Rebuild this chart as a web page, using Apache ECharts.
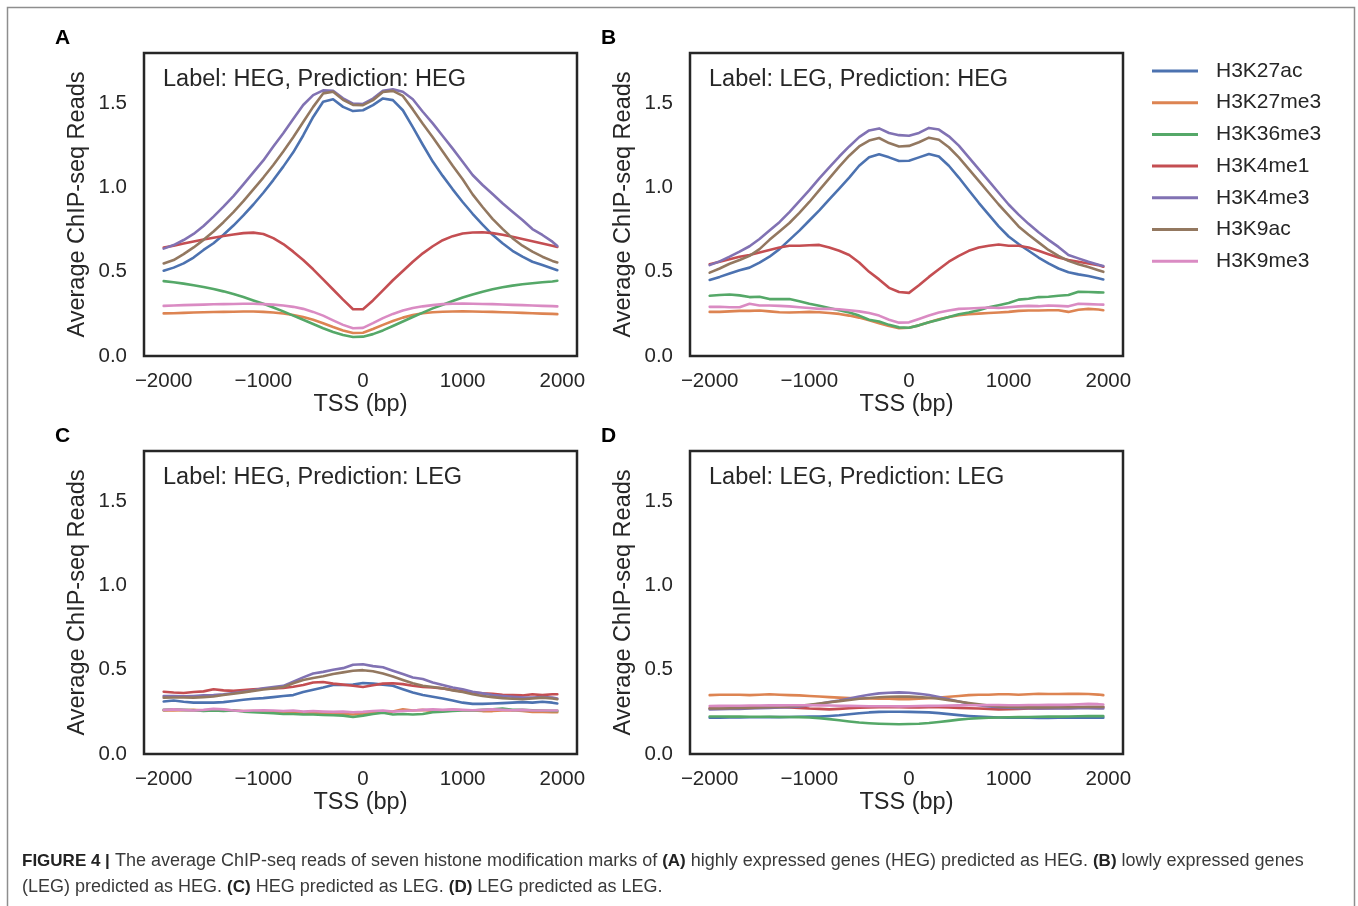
<!DOCTYPE html>
<html>
<head>
<meta charset="utf-8">
<title>Figure 4</title>
<script src="https://cdn.jsdelivr.net/npm/echarts@6/dist/echarts.min.js"></script>
<style>
  html, body { margin: 0; padding: 0; background: #fff; }
  #chart { width: 1358px; height: 906px; }
</style>
</head>
<body>
<div id="chart"></div>
<script>
// TSS positions (bp)
var XS = [-2000,-1900,-1800,-1700,-1600,-1500,-1400,-1300,-1200,-1100,-1000,-900,-800,-700,-600,-500,-400,-300,-200,-100,
          0,100,200,300,400,500,600,700,800,900,1000,1100,1200,1300,1400,1500,1600,1700,1800,1900,1950];

var MARKS = ['H3K27ac','H3K27me3','H3K36me3','H3K4me1','H3K4me3','H3K9ac','H3K9me3'];
var PANEL_LETTERS = ['A','B','C','D'];
var PANEL_TITLES = ['Label: HEG, Prediction: HEG','Label: LEG, Prediction: HEG','Label: HEG, Prediction: LEG','Label: LEG, Prediction: LEG'];
var X_TICKS = [-2000,-1000,0,1000,2000];
var Y_TICKS = [0,0.5,1.0,1.5];

/* A: HEG predicted as HEG */
var A_H3K27ac  = [0.507,0.525,0.55,0.585,0.63,0.67,0.72,0.775,0.835,0.90,0.97,1.045,1.125,1.21,1.31,1.42,1.51,1.525,1.48,1.455,
                  1.46,1.49,1.53,1.52,1.46,1.36,1.255,1.155,1.07,0.99,0.915,0.845,0.78,0.72,0.67,0.625,0.59,0.56,0.54,0.52,0.51];
var A_H3K27me3 = [0.253,0.254,0.256,0.258,0.26,0.261,0.262,0.263,0.264,0.264,0.262,0.258,0.252,0.244,0.232,0.215,0.195,0.172,0.152,0.137,
                  0.138,0.16,0.185,0.208,0.228,0.243,0.254,0.26,0.263,0.264,0.265,0.264,0.263,0.262,0.26,0.258,0.256,0.254,0.252,0.25,0.249];
var A_H3K36me3 = [0.445,0.438,0.43,0.42,0.41,0.398,0.384,0.368,0.35,0.33,0.31,0.288,0.265,0.24,0.215,0.19,0.165,0.143,0.125,0.113,
                  0.115,0.13,0.152,0.178,0.205,0.232,0.258,0.283,0.305,0.327,0.348,0.366,0.382,0.396,0.408,0.418,0.426,0.432,0.438,0.443,0.447];
var A_H3K4me1  = [0.644,0.655,0.668,0.68,0.692,0.703,0.713,0.722,0.73,0.733,0.725,0.70,0.665,0.62,0.57,0.515,0.455,0.395,0.335,0.278,
                  0.278,0.33,0.39,0.45,0.505,0.56,0.61,0.652,0.688,0.712,0.728,0.734,0.735,0.73,0.72,0.708,0.695,0.682,0.668,0.655,0.648];
var A_H3K4me3  = [0.638,0.659,0.689,0.725,0.772,0.828,0.887,0.95,1.02,1.091,1.162,1.244,1.323,1.408,1.491,1.55,1.578,1.576,1.531,1.499,
                  1.497,1.529,1.576,1.584,1.57,1.525,1.451,1.382,1.307,1.232,1.154,1.075,1.016,0.962,0.907,0.857,0.808,0.754,0.719,0.679,0.653];
var A_H3K9ac   = [0.55,0.57,0.605,0.645,0.69,0.74,0.795,0.855,0.92,0.99,1.06,1.135,1.215,1.30,1.39,1.48,1.56,1.57,1.522,1.492,
                  1.49,1.52,1.568,1.575,1.545,1.465,1.38,1.30,1.215,1.13,1.05,0.96,0.885,0.815,0.755,0.70,0.655,0.62,0.59,0.565,0.556];
var A_H3K9me3  = [0.298,0.30,0.302,0.304,0.305,0.307,0.308,0.309,0.31,0.31,0.308,0.305,0.30,0.292,0.28,0.262,0.24,0.212,0.185,0.165,
                  0.167,0.195,0.225,0.25,0.27,0.285,0.295,0.302,0.308,0.31,0.311,0.31,0.309,0.308,0.306,0.304,0.302,0.30,0.298,0.296,0.295];

/* B: LEG predicted as HEG */
var B_H3K27ac  = [0.452,0.47,0.49,0.51,0.525,0.555,0.59,0.635,0.69,0.745,0.805,0.865,0.93,0.995,1.06,1.13,1.18,1.198,1.18,1.158,
                  1.16,1.18,1.20,1.185,1.13,1.06,0.985,0.91,0.84,0.77,0.71,0.665,0.625,0.585,0.55,0.52,0.498,0.485,0.475,0.462,0.455];
var B_H3K27me3 = [0.262,0.262,0.265,0.268,0.268,0.27,0.265,0.26,0.258,0.26,0.262,0.26,0.255,0.25,0.24,0.228,0.212,0.195,0.178,0.165,
                  0.168,0.182,0.20,0.218,0.232,0.242,0.248,0.252,0.255,0.258,0.262,0.268,0.27,0.27,0.272,0.272,0.262,0.275,0.28,0.276,0.272];
var B_H3K36me3 = [0.358,0.362,0.365,0.36,0.35,0.352,0.338,0.338,0.338,0.325,0.31,0.298,0.285,0.272,0.258,0.24,0.215,0.205,0.185,0.17,
                  0.168,0.182,0.20,0.215,0.232,0.248,0.258,0.272,0.29,0.302,0.315,0.335,0.34,0.35,0.352,0.358,0.362,0.382,0.38,0.378,0.377];
var B_H3K4me1  = [0.545,0.56,0.575,0.59,0.60,0.615,0.63,0.645,0.655,0.655,0.658,0.66,0.645,0.625,0.60,0.555,0.50,0.455,0.405,0.38,
                  0.375,0.42,0.47,0.515,0.56,0.595,0.625,0.645,0.655,0.662,0.655,0.655,0.645,0.625,0.605,0.585,0.57,0.56,0.55,0.54,0.53];
var B_H3K4me3  = [0.54,0.562,0.59,0.62,0.652,0.695,0.745,0.795,0.855,0.92,0.985,1.055,1.12,1.185,1.245,1.30,1.34,1.352,1.325,1.312,
                  1.308,1.325,1.355,1.345,1.305,1.25,1.18,1.11,1.04,0.97,0.90,0.84,0.785,0.735,0.69,0.648,0.60,0.58,0.56,0.542,0.535];
var B_H3K9ac   = [0.495,0.52,0.548,0.57,0.595,0.635,0.69,0.74,0.79,0.85,0.915,0.985,1.055,1.125,1.19,1.245,1.28,1.295,1.265,1.245,
                  1.248,1.27,1.297,1.285,1.24,1.18,1.11,1.04,0.97,0.90,0.835,0.77,0.72,0.675,0.63,0.595,0.565,0.545,0.528,0.51,0.50];
var B_H3K9me3  = [0.292,0.293,0.29,0.29,0.31,0.30,0.30,0.298,0.295,0.29,0.285,0.28,0.28,0.278,0.272,0.265,0.255,0.24,0.215,0.198,
                  0.20,0.22,0.24,0.258,0.27,0.28,0.282,0.285,0.288,0.285,0.29,0.295,0.298,0.296,0.30,0.298,0.295,0.31,0.308,0.306,0.305];

/* C: HEG predicted as LEG */
var C_H3K27ac  = [0.312,0.318,0.31,0.305,0.305,0.305,0.308,0.315,0.322,0.328,0.332,0.338,0.345,0.35,0.368,0.382,0.395,0.41,0.41,0.412,
                  0.422,0.418,0.412,0.405,0.385,0.365,0.35,0.34,0.33,0.318,0.305,0.298,0.298,0.30,0.302,0.305,0.308,0.305,0.31,0.305,0.30];
var C_H3K27me3 = [0.258,0.258,0.26,0.262,0.258,0.26,0.262,0.258,0.255,0.255,0.252,0.25,0.25,0.248,0.245,0.242,0.245,0.24,0.238,0.235,
                  0.24,0.245,0.25,0.252,0.265,0.258,0.262,0.255,0.258,0.262,0.26,0.258,0.255,0.255,0.258,0.26,0.255,0.25,0.25,0.248,0.248];
var C_H3K36me3 = [0.262,0.265,0.262,0.26,0.255,0.258,0.255,0.258,0.252,0.248,0.245,0.242,0.238,0.238,0.235,0.235,0.232,0.23,0.228,0.22,
                  0.228,0.238,0.245,0.235,0.238,0.235,0.238,0.248,0.252,0.255,0.258,0.258,0.262,0.265,0.27,0.262,0.262,0.26,0.258,0.256,0.256];
var C_H3K4me1  = [0.37,0.365,0.362,0.368,0.372,0.385,0.378,0.375,0.38,0.385,0.388,0.39,0.392,0.40,0.41,0.425,0.428,0.418,0.412,0.405,
                  0.398,0.408,0.418,0.42,0.415,0.405,0.398,0.395,0.39,0.38,0.372,0.365,0.36,0.358,0.352,0.35,0.348,0.355,0.35,0.355,0.355];
var C_H3K4me3  = [0.345,0.345,0.343,0.345,0.348,0.35,0.355,0.362,0.37,0.378,0.39,0.398,0.405,0.43,0.455,0.478,0.488,0.50,0.51,0.53,
                  0.533,0.522,0.515,0.495,0.475,0.455,0.445,0.425,0.41,0.395,0.385,0.37,0.36,0.35,0.345,0.34,0.335,0.335,0.338,0.335,0.33];
var C_H3K9ac   = [0.335,0.336,0.336,0.335,0.338,0.342,0.35,0.358,0.366,0.375,0.383,0.39,0.398,0.42,0.44,0.452,0.462,0.475,0.485,0.495,
                  0.498,0.492,0.478,0.46,0.44,0.42,0.405,0.398,0.39,0.378,0.368,0.355,0.345,0.338,0.332,0.328,0.325,0.33,0.335,0.33,0.325];
var C_H3K9me3  = [0.262,0.265,0.262,0.258,0.262,0.268,0.265,0.258,0.255,0.258,0.26,0.258,0.255,0.258,0.252,0.255,0.252,0.25,0.252,0.248,
                  0.25,0.255,0.258,0.252,0.255,0.258,0.262,0.265,0.262,0.265,0.262,0.26,0.262,0.265,0.262,0.26,0.262,0.258,0.258,0.258,0.258];

/* D: LEG predicted as LEG */
var D_H3K27ac  = [0.216,0.216,0.217,0.217,0.218,0.218,0.219,0.219,0.22,0.221,0.222,0.223,0.226,0.23,0.236,0.242,0.247,0.25,0.251,0.251,
                  0.25,0.249,0.247,0.243,0.237,0.231,0.226,0.222,0.219,0.217,0.216,0.215,0.215,0.214,0.214,0.215,0.215,0.216,0.216,0.216,0.216];
var D_H3K27me3 = [0.35,0.352,0.352,0.352,0.35,0.352,0.355,0.352,0.35,0.348,0.345,0.342,0.338,0.335,0.332,0.33,0.33,0.328,0.328,0.325,
                  0.326,0.328,0.332,0.336,0.34,0.345,0.35,0.352,0.352,0.355,0.355,0.352,0.355,0.358,0.356,0.356,0.357,0.358,0.356,0.353,0.35];
var D_H3K36me3 = [0.223,0.223,0.222,0.222,0.221,0.221,0.221,0.22,0.22,0.219,0.217,0.213,0.207,0.20,0.193,0.187,0.183,0.18,0.178,0.177,
                  0.178,0.18,0.184,0.19,0.197,0.204,0.209,0.213,0.215,0.217,0.218,0.219,0.22,0.221,0.222,0.222,0.223,0.224,0.225,0.225,0.225];
var D_H3K4me1  = [0.272,0.273,0.274,0.275,0.276,0.277,0.278,0.278,0.277,0.274,0.27,0.268,0.265,0.268,0.272,0.275,0.277,0.278,0.278,0.278,
                  0.277,0.277,0.278,0.278,0.276,0.274,0.272,0.27,0.268,0.265,0.266,0.268,0.27,0.271,0.272,0.273,0.274,0.275,0.276,0.277,0.277];
var D_H3K4me3  = [0.265,0.266,0.267,0.268,0.27,0.272,0.274,0.276,0.278,0.282,0.29,0.298,0.308,0.318,0.33,0.342,0.352,0.36,0.364,0.366,
                  0.364,0.358,0.35,0.338,0.325,0.312,0.30,0.29,0.283,0.278,0.275,0.272,0.272,0.27,0.27,0.27,0.27,0.272,0.272,0.27,0.27];
var D_H3K9ac   = [0.27,0.271,0.272,0.273,0.274,0.276,0.278,0.28,0.283,0.287,0.293,0.30,0.307,0.314,0.321,0.328,0.333,0.337,0.34,0.342,
                  0.341,0.338,0.334,0.328,0.32,0.312,0.303,0.295,0.288,0.283,0.28,0.278,0.277,0.277,0.277,0.278,0.278,0.279,0.28,0.28,0.28];
var D_H3K9me3  = [0.285,0.286,0.287,0.287,0.288,0.288,0.289,0.289,0.29,0.29,0.29,0.289,0.288,0.287,0.286,0.285,0.284,0.284,0.284,0.283,
                  0.284,0.285,0.286,0.287,0.288,0.289,0.29,0.29,0.291,0.291,0.29,0.29,0.291,0.291,0.292,0.292,0.293,0.295,0.298,0.296,0.294];

var PANELS = [
    [A_H3K27ac, A_H3K27me3, A_H3K36me3, A_H3K4me1, A_H3K4me3, A_H3K9ac, A_H3K9me3],
    [B_H3K27ac, B_H3K27me3, B_H3K36me3, B_H3K4me1, B_H3K4me3, B_H3K9ac, B_H3K9me3],
    [C_H3K27ac, C_H3K27me3, C_H3K36me3, C_H3K4me1, C_H3K4me3, C_H3K9ac, C_H3K9me3],
    [D_H3K27ac, D_H3K27me3, D_H3K36me3, D_H3K4me1, D_H3K4me3, D_H3K9ac, D_H3K9me3]
];

// seaborn "deep" palette
var COLORS = ['#4C72B0','#DD8452','#55A868','#C44E52','#8172B3','#937860','#DA8BC3'];
var FONT = '"Liberation Sans", Arial, Helvetica, sans-serif';
var INK = '#262626';

(function(){
    var chart = echarts.init(document.getElementById('chart'), null, {renderer: 'canvas'});

    // box of each panel
    var boxes = [
        {left: 144, top: 53}, {left: 690, top: 53},
        {left: 144, top: 451}, {left: 690, top: 451}
    ];
    var BOX_W = 433, BOX_H = 303;

    var grids = [], xAxes = [], yAxes = [], series = [], graphics = [];

    boxes.forEach(function(b, i){
        grids.push({
            left: b.left, top: b.top, width: BOX_W, height: BOX_H,
            show: true, borderColor: INK, borderWidth: 2.5, backgroundColor: 'transparent'
        });
        xAxes.push({
            type: 'value', gridIndex: i, min: -2197.5, max: 2147.5,
            name: 'TSS (bp)', nameLocation: 'middle', nameGap: 36,
            nameTextStyle: {fontFamily: FONT, fontSize: 23.5, color: INK},
            axisLine: {show: false}, axisTick: {show: false}, splitLine: {show: false},
            axisLabel: {
                customValues: X_TICKS, margin: 15,
                fontFamily: FONT, fontSize: 20.5, color: INK,
                formatter: function(v){ return v < 0 ? '\u2212' + Math.abs(v) : String(v); }
            }
        });
        yAxes.push({
            type: 'value', gridIndex: i, min: 0, max: 1.8,
            name: 'Average ChIP-seq Reads', nameLocation: 'middle', nameGap: 54,
            nameTextStyle: {fontFamily: FONT, fontSize: 23.5, color: INK},
            axisLine: {show: false}, axisTick: {show: false}, splitLine: {show: false},
            axisLabel: {
                customValues: Y_TICKS, margin: 17,
                fontFamily: FONT, fontSize: 20.5, color: INK,
                formatter: function(v){ return v.toFixed(1); }
            }
        });

        PANELS[i].forEach(function(vals, k){
            series.push({
                name: MARKS[k], type: 'line', xAxisIndex: i, yAxisIndex: i,
                data: XS.map(function(x, j){ return [x, vals[j]]; }),
                symbol: 'none', smooth: false, silent: true,
                color: COLORS[k],
                lineStyle: {width: 2.6, color: COLORS[k], cap: 'round', join: 'round'}
            });
        });

        // panel letter and annotation
        graphics.push({
            type: 'text', left: b.left - 89, top: b.top - 25,
            style: {text: PANEL_LETTERS[i], fontFamily: FONT, fontSize: 21, fontWeight: 'bold', fill: '#000'}
        });
        graphics.push({
            type: 'text', x: b.left + 19, y: b.top + 27,
            style: {text: PANEL_TITLES[i], fontFamily: FONT, fontSize: 23.5, fill: INK, verticalAlign: 'middle'}
        });
    });

    // outer frame of the figure
    graphics.push({
        type: 'rect', shape: {x: 7.5, y: 7.5, width: 1347, height: 920},
        style: {fill: 'none', stroke: '#8e8e8e', lineWidth: 1.5}, z: -1
    });

    // caption
    var capRich = {b: {fontWeight: 'bold', fontFamily: FONT, fontSize: 17, fill: '#222'}};
    graphics.push({
        type: 'text', x: 22, y: 861,
        style: {
            text: '{b|FIGURE 4 |} The average ChIP-seq reads of seven histone modification marks of {b|(A)} highly expressed genes (HEG) predicted as HEG. {b|(B)} lowly expressed genes',
            rich: capRich, fontFamily: FONT, fontSize: 18, fill: '#3a3a3a', verticalAlign: 'middle'
        }
    });
    graphics.push({
        type: 'text', x: 22, y: 887,
        style: {
            text: '(LEG) predicted as HEG. {b|(C)} HEG predicted as LEG. {b|(D)} LEG predicted as LEG.',
            rich: capRich, fontFamily: FONT, fontSize: 18, fill: '#3a3a3a', verticalAlign: 'middle'
        }
    });

    chart.setOption({
        backgroundColor: '#fff',
        animation: false,
        grid: grids,
        xAxis: xAxes,
        yAxis: yAxes,
        legend: {
            data: MARKS, orient: 'vertical', left: 1152, top: 60, padding: 0,
            icon: 'rect', itemWidth: 46, itemHeight: 3, itemGap: 9.7,
            selectedMode: false,
            textStyle: {fontFamily: FONT, fontSize: 21, color: INK, lineHeight: 22, padding: [0, 0, 0, 13]}
        },
        graphic: graphics,
        series: series
    });
})();
</script>
</body>
</html>
